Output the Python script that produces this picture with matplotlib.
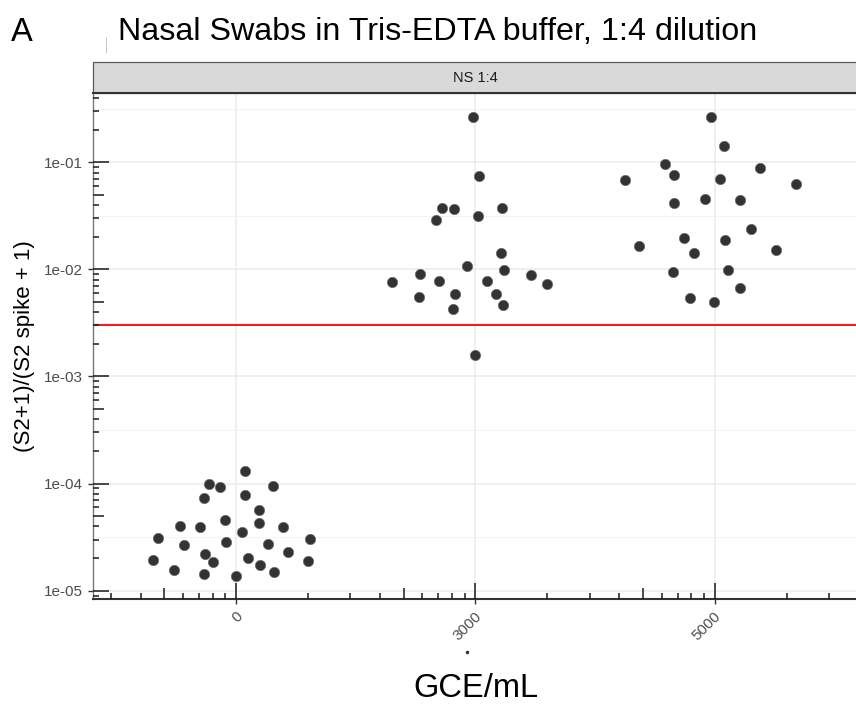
import numpy as np
import matplotlib
matplotlib.use("Agg")
import matplotlib.pyplot as plt
from matplotlib.transforms import blended_transform_factory, ScaledTranslation
from matplotlib.ticker import FixedLocator
from matplotlib.lines import Line2D
from matplotlib.patches import Rectangle

plt.rcParams['font.family'] = ['Liberation Sans', 'DejaVu Sans']

# Categories on the (discrete) x axis
CATEGORIES = ['0', '3000', '5000']

# GCE/mL = 0 : jitter offset (category units) and ratio
jit_0 = [-0.349, -0.328, -0.262, -0.236, -0.218, -0.154, -0.135, -0.133, -0.135, -0.113,
         -0.100, -0.070, -0.049, -0.045, 0.000, 0.022, 0.035, 0.035, 0.047, 0.096,
         0.096, 0.099, 0.130, 0.151, 0.158, 0.194, 0.215, 0.300, 0.308]
ratio_0 = [1.92e-5, 3.13e-5, 1.57e-5, 4.02e-5, 2.67e-5, 3.91e-5, 7.38e-5, 2.21e-5, 1.42e-5, 9.98e-5,
           1.85e-5, 9.29e-5, 4.57e-5, 2.85e-5, 1.36e-5, 3.53e-5, 1.31e-4, 7.87e-5, 2.02e-5, 5.63e-5,
           4.31e-5, 1.74e-5, 2.75e-5, 9.50e-5, 1.50e-5, 3.96e-5, 2.31e-5, 1.88e-5, 3.02e-5]

# GCE/mL = 3000
jit_3000 = [-0.009, 0.015, -0.139, -0.090, -0.165, 0.010, 0.112, 0.108, -0.037, 0.119, -0.232,
            0.231, -0.351, -0.151, 0.048, 0.298, -0.238, -0.087, 0.085, -0.093, 0.114, -0.001]
ratio_3000 = [0.265, 0.0740, 0.0377, 0.0366, 0.0287, 0.0315, 0.0374, 0.0143, 0.01076, 0.00987, 0.00900,
              0.00893, 0.00758, 0.00784, 0.00774, 0.00726, 0.00552, 0.00593, 0.00589, 0.00424, 0.00462, 0.00160]

# GCE/mL = 5000
jit_5000 = [-0.016, 0.040, -0.207, -0.171, -0.374, 0.023, 0.190, 0.340, -0.168, -0.040, 0.107,
            0.151, -0.126, 0.043, -0.317, -0.086, 0.259, -0.172, 0.058, 0.107, -0.103, -0.002]
ratio_5000 = [0.263, 0.142, 0.0964, 0.0766, 0.0684, 0.0703, 0.0891, 0.0631, 0.0417, 0.0454, 0.0445,
              0.0240, 0.0198, 0.0188, 0.0166, 0.0143, 0.0151, 0.00940, 0.00987, 0.00667, 0.00541, 0.00499]

THRESHOLD = 3e-3
Y_TICKS = [1e-5, 1e-4, 1e-3, 1e-2, 1e-1]
Y_LABELS = ['1e-05', '1e-04', '1e-03', '1e-02', '1e-01']

W, H = 856, 708
fig = plt.figure(figsize=(W / 100, H / 100), dpi=100)

# panel in pixels
PL, PR, PT, PB = 93, 858, 93.3, 599
ax = fig.add_axes([PL / W, (H - PB) / H, (PR - PL) / W, (PB - PT) / H])
ax_w, ax_h = PR - PL, PB - PT

ax.set_yscale('log')
ax.set_xlim(0.4, 3.6)
ax.set_ylim(10 ** -5.0775, 10 ** -0.356)

# grid
ax.set_xticks([1, 2, 3])
ax.set_xticklabels(CATEGORIES)
ax.set_yticks(Y_TICKS)
ax.set_yticklabels(Y_LABELS)
ax.yaxis.set_minor_locator(FixedLocator([10 ** (n + 0.5) for n in range(-6, 1)]))
ax.xaxis.set_minor_locator(FixedLocator([]))
ax.grid(True, which='major', color='#EBEBEB', lw=1.1, zorder=0)
ax.grid(True, which='minor', axis='y', color='#F3F3F3', lw=0.7, zorder=0)
ax.set_axisbelow(True)

ax.tick_params(axis='both', which='major', direction='out', length=3.6, width=1.0,
               color='#333333', labelcolor='#4D4D4D')
ax.tick_params(axis='y', which='major', labelsize=11, pad=3.4)
ax.tick_params(axis='x', which='major', labelsize=10.8, pad=7.2)
ax.tick_params(axis='y', which='minor', length=0)
for lab in ax.get_xticklabels():
    lab.set_rotation(45)
    lab.set_rotation_mode('anchor')
    lab.set_ha('right')
    lab.set_va('center')
    lab.set_transform(lab.get_transform() + ScaledTranslation(0.04, 0, fig.dpi_scale_trans))

for side in ['top', 'right']:
    ax.spines[side].set_visible(False)
ax.spines['left'].set_color('#777777')
ax.spines['left'].set_linewidth(1.0)
ax.spines['bottom'].set_color('#333333')
ax.spines['bottom'].set_linewidth(1.5)

# points
groups = [(jit_0, ratio_0), (jit_3000, ratio_3000), (jit_5000, ratio_5000)]
for i, (jit, vals) in enumerate(groups):
    xs = np.array(jit) + (i + 1)
    ax.scatter(xs, vals, s=55, c='#333333', edgecolors='#6A6A6A', linewidths=0.5, zorder=3)

# threshold line
ax.axhline(THRESHOLD, color='red', lw=1.3, zorder=2)

# log ticks (annotation_logticks style), inside the panel
def tick_len(k):
    return 16 if k == 1 else (11 if k == 5 else 6)

ytr = blended_transform_factory(ax.transAxes, ax.transData)
ylo, yhi = ax.get_ylim()
for n in range(-6, 1):
    for k in range(1, 10):
        v = k * 10.0 ** n
        if ylo <= v <= yhi:
            ax.plot([0, tick_len(k) / ax_w], [v, v], transform=ytr, color='#1A1A1A',
                    lw=1.1, solid_capstyle='butt', zorder=4, clip_on=False)

xtr = blended_transform_factory(ax.transData, ax.transAxes)
xlo, xhi = ax.get_xlim()
for n in range(0, 4):
    for k in range(1, 10):
        p = n + np.log10(k)
        if xlo <= p <= xhi:
            ax.plot([p, p], [0, tick_len(k) / ax_h], transform=xtr, color='#1A1A1A',
                    lw=1.1, solid_capstyle='butt', zorder=4, clip_on=False)

# axis titles
ax.set_ylabel('(S2+1)/(S2 spike + 1)', fontsize=16, color='black', va='center')
ax.yaxis.set_label_coords((24 - PL) / ax_w, 0.5)
ax.set_xlabel('GCE/mL', fontsize=23.5, color='black', va='baseline')
ax.xaxis.set_label_coords((476 - PL) / ax_w, (PB - 697) / ax_h)

# facet strip
ST = 61.7
fig.add_artist(Rectangle((PL / W, (H - PT) / H), (PR - PL) / W, (PT - ST) / H,
                         transform=fig.transFigure, facecolor='#D9D9D9',
                         edgecolor='#5A5A5A', lw=0.9))
fig.add_artist(Line2D([PL / W, PR / W], [(H - PT) / H] * 2, transform=fig.transFigure,
                      color='#333333', lw=1.5))
fig.text((PL + PR) / 2 / W, (H - (ST + PT) / 2) / H, 'NS 1:4', ha='center', va='center',
         fontsize=10.5, color='#1A1A1A')

# titles
fig.text(11 / W, (H - 41) / H, 'A', fontsize=23.5, va='baseline')
fig.text(118 / W, (H - 40) / H, 'Nasal Swabs in Tris-EDTA buffer, 1:4 dilution',
         fontsize=23.2, va='baseline')

# small stray marks seen in the source image
fig.add_artist(Line2D([106 / W, 106 / W], [(H - 37) / H, (H - 52) / H],
                      transform=fig.transFigure, color='#BBBBBB', lw=0.6))
fig.add_artist(Line2D([467 / W], [(H - 652) / H], transform=fig.transFigure,
                      marker='o', ms=1.5, color='#333333', lw=0))

fig.savefig('out.png', dpi=100)
